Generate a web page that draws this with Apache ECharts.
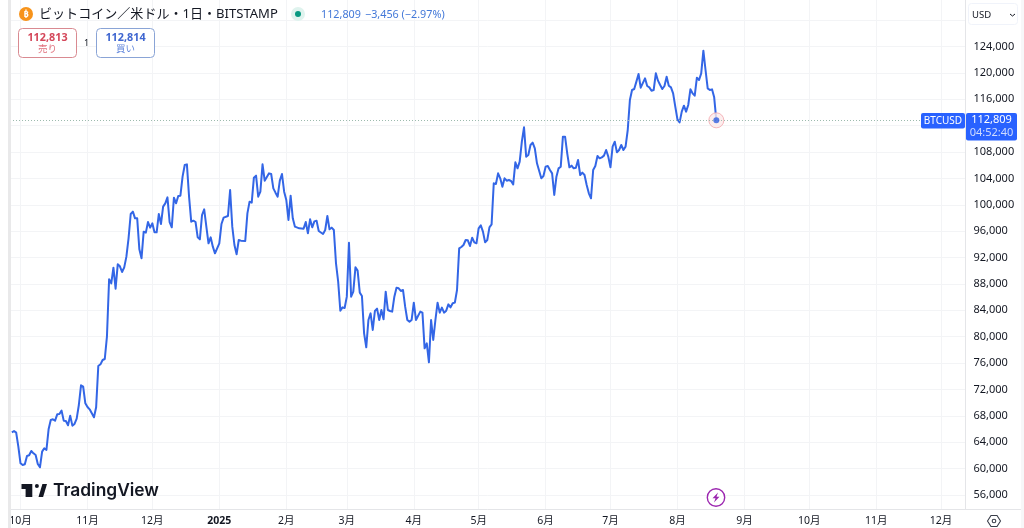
<!DOCTYPE html>
<html><head><meta charset="utf-8">
<style>html,body{margin:0;padding:0;background:#fff}#c{width:1024px;height:528px}</style>
<script src="https://cdn.jsdelivr.net/npm/echarts@6/dist/echarts.min.js"></script>
</head><body><div id="c"></div>
<script>
// Days since 2024-10-01 and the close
const dayOffsets = [-4,-3,-2,-1,0,1,2,3,4,5,6,7,8,9,10,11,12,13,14,15,16,17,18,19,20,21,22,23,24,25,26,27,28,29,30,31,32,34,35,36,37,38,39,40,41,42,43,44,45,46,47,48,49,50,51,52,53,54,55,56,57,58,59,60,61,62,63,64,65,66,67,68,69,70,71,72,73,74,75,76,77,78,79,
80,81,82,83,84,85,86,87,88,89,90,92,93,94,96,97,98,99,100,101,102,104,105,106,107,108,109,110,111,112,113,115,116,117,118,119,120,121,122,123,124,125,126,127,129,131,132,133,134,135,136,137,138,140,141,142,143,144,145,146,147,148,149,150,151,152,153,154,155,156,157,158,159,160,161,162,163,164,165,166,167,168,169,170,171,
172,173,174,175,176,177,178,179,180,181,182,183,185,186,187,188,189,190,191,192,193,194,195,196,197,198,199,200,201,202,203,204,205,206,207,208,209,210,211,212,213,214,215,216,217,218,219,220,221,222,223,224,225,226,227,228,229,230,231,232,233,234,235,236,237,238,239,241,242,243,244,245,246,247,248,249,250,251,252,253,254,255,256,257,258,259,
260,261,262,263,264,265,266,267,268,269,270,271,272,273,274,275,276,277,278,279,280,281,282,283,284,285,286,287,289,290,291,292,293,294,295,296,297,298,299,300,301,302,303,304,305,306,307,308,309,310,311,312,313,314,315,316,317,318,319,320,321,322];
const closes = [65510,65712,65460,63337,60811,60558,60659,61922,62023,62680,62327,62074,60710,60204,62579,63085,62832,65964,67380,67480,67279,68239,68289,68795,67279,67228,66571,68036,66520,66773,67581,69653,72634,72432,69906,69350,68997,67784,69299,75565,75818,76475,76626,80011,88703,88097,90472,87288,90977,90674,89815,90522,92139,94918,98607,98961,97950,97950,93251,91887,95929,95778,97394,96535,97192,95828,95828,98607,97091,99719,100224,101134,97394,96586,101083,100224,101336,101386,104267,106035,106136,101235,97445,
97597,97394,95070,94767,98456,99315,96687,94161,95070,93655,92645,94161,97091,98051,98304,102245,96687,93908,92493,94666,94565,94514,98702,100477,100325,104115,104418,101235,101997,106136,103660,104772,104671,102498,101841,101235,103660,104671,101997,100730,97698,101386,97950,96687,96434,96384,97394,95677,97799,96586,97496,97597,96030,95575,96182,98304,96283,96535,96182,91129,88350,83953,84458,84357,86076,94261,86076,86834,90522,90017,86682,86177,80517,78395,82539,83549,81023,83903,84256,82539,84055,82640,86834,84055,83903,
83802,86076,87440,87339,86935,87087,84560,82539,82286,82539,85167,82539,83802,83651,78244,79002,76122,82539,79507,82539,85167,83651,84409,83651,83954,84914,84459,85065,85167,87087,93403,93605,93908,94666,94616,93757,95020,94312,94161,96434,96889,95929,94312,94666,96586,97041,103256,103155,104772,104015,102751,104015,103660,103762,103610,103105,106440,105530,106541,109573,111745,107299,107551,109067,109421,108562,106288,104015,104368,105783,105884,105278,104772,101488,104267,105530,105783,110330,110330,107804,105682,105934,105530,105631,106793,104519,
104874,104520,103004,101741,100983,105278,105884,107400,107047,107198,107451,108310,107300,105683,108815,109573,107956,108310,109068,108310,108815,111342,115890,117405,117557,118673,119831,117759,119174,118012,117810,117304,117405,119932,118820,118163,117557,118012,119427,118062,117810,116900,114879,112959,112504,114121,115031,114121,115131,117506,116900,116547,119275,118921,119932,123368,120437,117658,117406,117506,116294,112809];
const monthOffsets = [0,31,61,92,123,151,182,212,243,273,304,335,365,396,426];
const monthLabels = ['10月','11月','12月','2025','2月','3月','4月','5月','6月','7月','8月','9月','10月','11月','12月'];
const priceLabels = [56000,60000,64000,68000,72000,76000,80000,84000,88000,92000,96000,100000,104000,108000,116000,120000,124000];
const priceGrid = [56000,60000,64000,68000,72000,76000,80000,84000,88000,92000,96000,100000,104000,108000,112000,116000,120000,124000,128000];
const lastPrice = 112809;

const points = dayOffsets.map((d, i) => [d, closes[i]]);
const lastPoint = points[points.length - 1];
const FONT = '"Noto Sans","Noto Sans CJK JP",sans-serif';
const INK = '#131722', BLUE = '#2962ff';

const txt = (x, y, text, size, fill, extra) => ({type:'text', x, y, silent:true, style:Object.assign({text, fontSize:size, fontFamily:FONT, fill, verticalAlign:'middle'}, extra||{})});
const rect = (x, y, w, h, fill, stroke, r) => ({type:'rect', silent:true, shape:{x, y, width:w, height:h, r:r||0}, style:{fill, stroke:stroke||null, lineWidth:stroke?1:0}});
const circle = (cx, cy, r, fill, stroke, lw) => ({type:'circle', silent:true, shape:{cx, cy, r}, style:{fill, stroke:stroke||null, lineWidth:lw||0}});
const poly = (points, fill) => ({type:'polygon', silent:true, shape:{points}, style:{fill}});

const graphics = [
  rect(8,0,3,528,'#e9e9ea'),
  rect(965.5,509,56,1,'#e4e5e8'),
  rect(1021,0,3,528,'#f7f7f8'),
  // header
  circle(26,14,7,'#f7931a'),
  txt(26,14,'₿',9,'#fff',{align:'center',fontWeight:'bold'}),
  txt(39,14.5,'ビットコイン／米ドル・1日・BITSTAMP',13.05,INK),
  circle(298,14,7,'#dff3ee'),
  circle(298,14,3,'#089981'),
  txt(321,14.5,'112,809',10.8,'#4378d8'),
  txt(365,14.5,'−3,456 (−2.97%)',10.8,'#4378d8'),
  // sell / buy
  rect(18.5,28.5,58,29,'#fff','#d98a91',4),
  txt(47.5,37.5,'112,813',10.8,'#d4475a',{align:'center',fontWeight:'bold'}),
  txt(47.5,49,'売り',9.5,'#e0707c',{align:'center'}),
  txt(86.5,43,'1',9,INK,{align:'center'}),
  rect(96.5,28.5,58,29,'#fff','#8aa4d6',4),
  txt(125.5,37.5,'112,814',10.8,'#3f66d0',{align:'center',fontWeight:'bold'}),
  txt(125.5,49,'買い',9.5,'#5f85dc',{align:'center'}),
  // currency box
  rect(968.5,3.5,49,21,'#fff','#f0f3fa',3),
  txt(972,15,'USD',9.5,INK),
  {type:'polyline', silent:true, shape:{points:[[1010,14],[1012.5,16],[1015,14]]}, style:{stroke:INK, lineWidth:1, fill:null}},
  // last price tags
  rect(921,113,44,15.5,BLUE,null,2),
  txt(943,120.8,'BTCUSD',10,'#fff',{align:'center'}),
  rect(966,113,51,27.5,BLUE,null,2),
  txt(991.5,120,'112,809',11,'#fff',{align:'center'}),
  txt(991.5,133,'04:52:40',11,'#cfdcff',{align:'center'}),
  // watermark
  poly([[21.5,484],[32.3,484],[32.3,497],[25.6,497],[25.6,489],[21.5,489]],INK),
  poly([[42.4,484],[47,484],[43.1,497],[38.5,497]],INK),
  circle(36.9,486,2,INK),
  txt(53,491,'TradingView',17.4,INK,{fontFamily:'Inter, "Noto Sans", sans-serif',fontWeight:600}),
  // bolt badge
  circle(716,497.5,8.7,'#fff','#9c27b0',1.4),
  poly([[718,492.5],[712.5,498.3],[715.5,498.3],[714,502.5],[719.5,496.7],[716.5,496.7]],'#9c27b0'),
  // settings glyph
  {type:'polygon', silent:true, shape:{points:[[987.5,521],[991,515.5],[997,515.5],[1000.5,521],[997,526.5],[991,526.5]]}, style:{fill:'#fff',stroke:'#3a3e4a',lineWidth:1.1}},
  circle(994,521,1.8,'#fff','#3a3e4a',1.1)
];
graphics.forEach(g => { g.z = 100; });

const chart = echarts.init(document.getElementById('c'), null, {renderer:'canvas'});
chart.setOption({
  animation:false,
  backgroundColor:'#fff',
  grid:{left:10, right:58.5, top:0, bottom:19},
  xAxis:{
    type:'value',
    min:-4.86, max:437.3,
    axisLine:{show:true, onZero:false, lineStyle:{color:'#e4e5e8', width:1}},
    axisTick:{show:false, customValues:monthOffsets},
    splitLine:{show:true, lineStyle:{color:'#f3f4f6', width:1}},
    axisLabel:{
      customValues:monthOffsets, margin:7, fontSize:10.5, color:INK, fontFamily:FONT, hideOverlap:false,
      showMinLabel:true, showMaxLabel:true,
      formatter:v => { const s = monthLabels[monthOffsets.indexOf(v)]; return s === '2025' ? '{y|2025}' : s; },
      rich:{y:{fontWeight:'bold', fontSize:10.5, color:INK, fontFamily:FONT}}
    }
  },
  yAxis:{
    type:'value', position:'right',
    min:53885, max:131050,
    axisLine:{show:true, onZero:false, lineStyle:{color:'#e4e5e8', width:1}},
    axisTick:{show:false, customValues:priceGrid},
    splitLine:{show:true, lineStyle:{color:'#f3f4f6', width:1}},
    axisLabel:{customValues:priceLabels, margin:8, fontSize:11, color:INK, fontFamily:FONT, padding:[2,0,0,0],
      formatter:v => v.toLocaleString('en-US')}
  },
  series:[
    {type:'line', data:points, showSymbol:false, smooth:false, silent:true, z:3,
      lineStyle:{color:'#3366e6', width:2, join:'round'},
      markLine:{silent:true, symbol:'none', label:{show:false},
        lineStyle:{color:'#9dbbae', width:1, type:[1,2]},
        data:[{yAxis:lastPrice}]}},
    {type:'scatter', data:[lastPoint], symbol:'circle', symbolSize:15, silent:true, z:4,
      itemStyle:{color:'#fdeaea', borderColor:'#f3a6ac', borderWidth:1}},
    {type:'scatter', data:[lastPoint], symbol:'circle', symbolSize:6, silent:true, z:5,
      itemStyle:{color:'#2f5fe0'}}
  ],
  graphic:{elements:graphics}
});
</script></body></html>
